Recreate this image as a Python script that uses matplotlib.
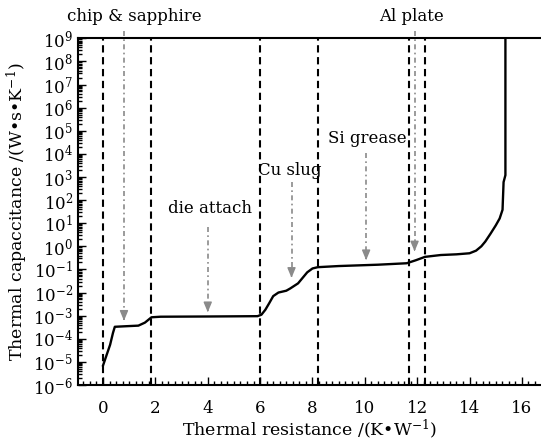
import matplotlib
matplotlib.use("Agg")
import matplotlib.pyplot as plt
from matplotlib.ticker import LogLocator, MultipleLocator, LogFormatterMathtext

plt.rcParams["font.family"] = "DejaVu Serif"
plt.rcParams["mathtext.fontset"] = "dejavuserif"

# structure function (cumulative thermal capacitance vs thermal resistance)
r_th = [0.0, 0.27, 0.38, 0.45, 0.9, 1.35, 1.6, 1.85, 2.2, 4.0, 5.9, 6.05,
        6.2, 6.35, 6.5, 6.7, 7.0, 7.15, 7.45, 7.8, 8.0, 8.2, 9.0, 10.5,
        11.6, 11.95, 12.3, 12.9, 13.5, 14.0, 14.25, 14.45, 14.6, 14.8,
        15.0, 15.15, 15.26, 15.3, 15.37, 15.37]
c_th = [7e-6, 5.5e-5, 1.8e-4, 3.3e-4, 3.5e-4, 3.7e-4, 5e-4, 8.5e-4, 9e-4,
        9.2e-4, 9.5e-4, 1.1e-3, 1.8e-3, 3.5e-3, 7e-3, 1.0e-2, 1.2e-2,
        1.5e-2, 2.5e-2, 7.5e-2, 1.1e-1, 1.25e-1, 1.4e-1, 1.6e-1, 1.85e-1,
        2.5e-1, 3.5e-1, 4.2e-1, 4.5e-1, 5e-1, 6.5e-1, 1.0, 1.6, 3.5, 8.0,
        1.6e1, 3.8e1, 6e2, 1.2e3, 1e9]

# layer boundaries (dashed vertical lines)
boundaries = [0.0, 1.85, 6.0, 8.2, 11.7, 12.3]

# layer labels: text, arrow x, arrow top, arrow tip, text x, text y
labels = ["chip & sapphire", "die attach", "Cu slug", "Si grease", "Al plate"]
arrow_x = [0.8, 4.0, 7.2, 10.05, 11.9]
arrow_top = [2e9, 7.0, 6e2, 1.1e4, 2e9]
arrow_tip = [6e-4, 1.4e-3, 4.3e-2, 2.5e-1, 6e-1]
text_x = [1.2, 4.1, 7.15, 10.1, 11.8]
text_y = [9e9, 4.5e1, 2e3, 4.5e4, 9e9]

GRAY = "#8a8a8a"

fig = plt.figure(figsize=(5.41, 4.4), dpi=100)
ax = fig.add_axes([0.144, 0.125, 0.857, 0.788])

ax.plot(r_th, c_th, color="black", lw=1.7, zorder=3)

for b in boundaries:
    ax.axvline(b, color="black", lw=1.5, linestyle=(0, (3.5, 2.2)), zorder=2)

for lab, ax_x, top, tip, tx, ty in zip(labels, arrow_x, arrow_top, arrow_tip,
                                       text_x, text_y):
    ax.plot([ax_x, ax_x], [top, tip * 1.6], color=GRAY, lw=1.2,
            linestyle=(0, (3, 2, 1, 2)), clip_on=False, zorder=4)
    ax.annotate("", xy=(ax_x, tip), xytext=(ax_x, tip * 1.7),
                arrowprops=dict(arrowstyle="-|>,head_length=0.6,head_width=0.25",
                                color=GRAY, lw=1.0), annotation_clip=False)
    ax.text(tx, ty, lab, ha="center", va="center", fontsize=12,
            color="black", zorder=5, clip_on=False)

ax.set_yscale("log")
ax.set_xlim(-0.96, 16.75)
ax.set_ylim(1e-6, 1e9)

ax.yaxis.set_major_locator(LogLocator(base=10, numticks=30))
ax.yaxis.set_minor_locator(LogLocator(base=10, subs=range(2, 10), numticks=30))
ax.yaxis.set_major_formatter(LogFormatterMathtext())
ax.xaxis.set_major_locator(MultipleLocator(2))
ax.xaxis.set_minor_locator(MultipleLocator(0.25))

ax.tick_params(which="both", direction="in", top=False, right=False,
               labelsize=12, width=1.0)
ax.tick_params(which="major", length=6)
ax.tick_params(which="minor", length=3)
ax.tick_params(axis="x", pad=11)

for side in ["left", "bottom", "top"]:
    ax.spines[side].set_linewidth(1.5)
ax.spines["right"].set_visible(False)

ax.set_xlabel("Thermal resistance /(K\u2022W$^{-1}$)", fontsize=12.5, labelpad=0)
ax.set_ylabel("Thermal capaccitance /(W\u2022s\u2022K$^{-1}$)", fontsize=12.5,
              labelpad=2)

fig.savefig("out.png", dpi=100)
